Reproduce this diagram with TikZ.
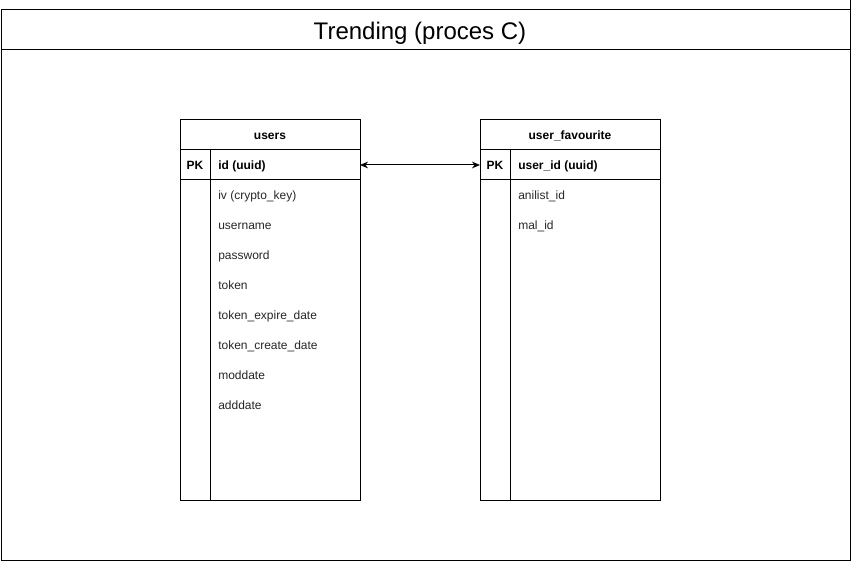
\documentclass[tikz,border=0pt]{standalone}
\usepackage{fontspec}
\setmainfont{Liberation Sans}
\usetikzlibrary{arrows.meta}

\tikzset{
  frame/.style={draw=black, line width=0.75pt},
  cell/.style={draw=black, line width=0.75pt, minimum width=135pt, inner sep=0pt, outer sep=0pt},
  label9/.style={font=\fontsize{9}{11}\selectfont, inner sep=0pt, text height=6.6pt, text depth=2pt, yshift=-1.4pt},
  headtext/.style={label9, font=\fontsize{9}{11}\selectfont\bfseries},
  keytext/.style={label9, font=\fontsize{9}{11}\selectfont\bfseries, anchor=west},
  pktext/.style={label9, font=\fontsize{9}{11}\selectfont\bfseries},
  fieldtext/.style={label9, anchor=west, text=black!85},
  relation/.style={line width=0.75pt, {Stealth[length=6pt,width=5pt]}-{Stealth[length=6pt,width=5pt]}},
}

\begin{document}
\begin{tikzpicture}[x=0.75pt, y=-0.75pt]
\useasboundingbox (0,0) rectangle (853,563);

% outer container with its title band
\draw[frame] (1,10) -- (850,10);
\draw[frame] (850,0) -- (850,560) -- (1,560) -- (1,10);
\draw[frame] (1,50) -- (850,50);
\node[font=\fontsize{18}{22}\selectfont, inner sep=0pt, text height=13pt, text depth=3.8pt] (title) at (420,33.5) {Trending (proces C)};

% table: users
\node[cell, minimum height=22.5pt] (usersHead) at (270,135) {};
\node[headtext] at (usersHead.center) {users};
\node[cell, minimum height=22.5pt] (usersKey) at (270,165) {};
\node[cell, minimum height=240pt] (usersBody) at (270,340) {};
\draw[frame] (210,150) -- (210,500);
\node[pktext] at (195,165) {PK};
\node[keytext] at (218,165) {id (uuid)};
\foreach \t [count=\i from 0] in {iv (crypto\_key), username, password, token,
    token\_expire\_date, token\_create\_date, moddate, adddate}
  \node[fieldtext] at (218,195+30*\i) {\t};

% table: user_favourite
\node[cell, minimum height=22.5pt] (favHead) at (570,135) {};
\node[headtext] at (favHead.center) {user\_favourite};
\node[cell, minimum height=22.5pt] (favKey) at (570,165) {};
\node[cell, minimum height=240pt] (favBody) at (570,340) {};
\draw[frame] (510,150) -- (510,500);
\node[pktext] at (495,165) {PK};
\node[keytext] at (518,165) {user\_id (uuid)};
\foreach \t [count=\i from 0] in {anilist\_id, mal\_id}
  \node[fieldtext] at (518,195+30*\i) {\t};

% relationship between the primary keys
\draw[relation] (usersKey.east) -- (favKey.west);
\end{tikzpicture}
\end{document}
